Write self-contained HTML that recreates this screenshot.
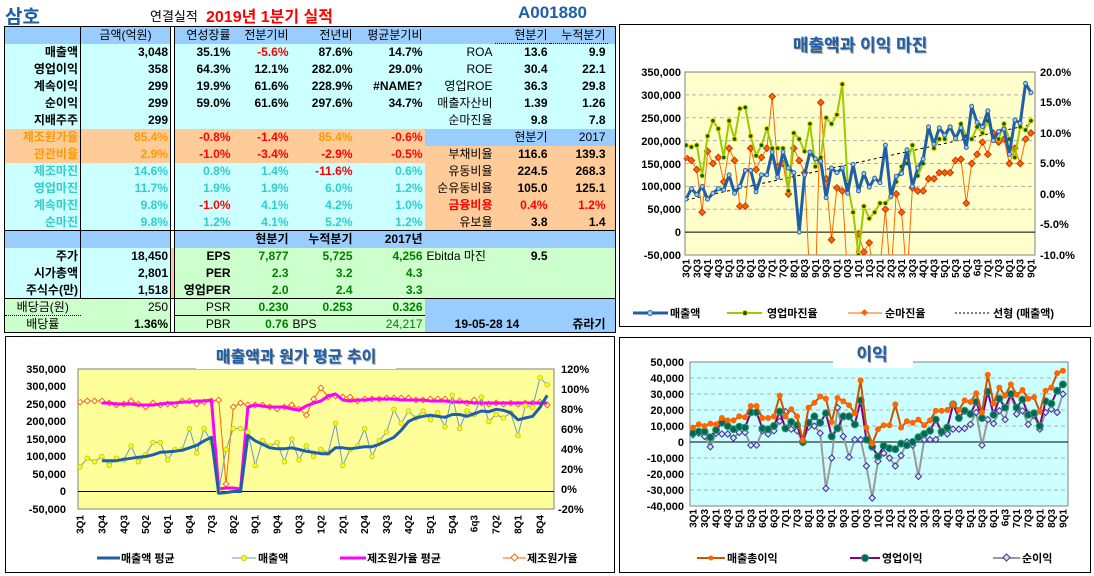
<!DOCTYPE html>
<html><head><meta charset="utf-8">
<style>
*{margin:0;padding:0;box-sizing:border-box}
body{width:1094px;height:576px;background:#fff;position:relative;overflow:hidden;font-family:"Liberation Sans","Noto Sans CJK KR",sans-serif}
.t{position:absolute;top:2px;white-space:nowrap;font-weight:bold}
table{position:absolute;left:4px;top:26px;border-collapse:collapse;table-layout:fixed;width:611px;font-size:12px}
td{height:17px;padding:0 2px;text-align:right;white-space:nowrap;font-weight:bold;overflow:visible;line-height:16px}
.n{font-weight:normal}
.c{text-align:center}
.l{text-align:left}
.B{background:#99ccff}.C{background:#ccffff}.O{background:#ffcc99}.G{background:#ccffcc}.W{background:#fff}
.s{background:#fff;border-left:1px solid #000;border-right:1px solid #000;padding:0}
.r{color:#f00}.o{color:#ff9900}.q{color:#33cccc}.g{color:#008000}
.vl{border-left:1px solid #000}
.tl td{border-top:1px solid #000}
svg{position:absolute;left:0;top:0}
</style></head><body>
<div class="t" style="left:5px;font-size:19px;color:#1f5fa8">삼호</div>
<div class="t" style="left:150px;top:6px;font-size:13px;font-weight:normal">연결실적</div>
<div class="t" style="left:206px;top:3px;font-size:16px;color:#f00">2019년 1분기 실적</div>
<div class="t" style="left:518px;top:3px;font-size:17px;color:#1f5fa8">A001880</div>
<table style="border:1px solid #000">
<colgroup><col style="width:76px"><col style="width:90px"><col style="width:4px"><col style="width:58px"><col style="width:58px"><col style="width:64px"><col style="width:70px"><col style="width:70px"><col style="width:55px"><col style="width:58px"><col style="width:8px"></colgroup>
<tr class="B"><td></td><td class="n c vl">금액(억원)</td><td class="s"></td><td class="n">연성장률</td><td class="n">전분기비</td><td class="n">전년비</td><td class="n">평균분기비</td><td></td><td class="n" style="border-bottom:1px dotted #000">현분기</td><td class="n" style="border-bottom:1px dotted #000">누적분기</td><td></td></tr>
<tr class="C"><td>매출액</td><td class="vl">3,048</td><td class="s"></td><td>35.1%</td><td class="r">-5.6%</td><td>87.6%</td><td>14.7%</td><td class="n">ROA</td><td>13.6</td><td>9.9</td><td></td></tr>
<tr class="C"><td>영업이익</td><td class="vl">358</td><td class="s"></td><td>64.3%</td><td>12.1%</td><td>282.0%</td><td>29.0%</td><td class="n">ROE</td><td>30.4</td><td>22.1</td><td></td></tr>
<tr class="C"><td>계속이익</td><td class="vl">299</td><td class="s"></td><td>19.9%</td><td>61.6%</td><td>228.9%</td><td>#NAME?</td><td class="n">영업ROE</td><td>36.3</td><td>29.8</td><td></td></tr>
<tr class="C"><td>순이익</td><td class="vl">299</td><td class="s"></td><td>59.0%</td><td>61.6%</td><td>297.6%</td><td>34.7%</td><td class="n">매출자산비</td><td>1.39</td><td>1.26</td><td></td></tr>
<tr class="C"><td>지배주주</td><td class="vl">299</td><td class="s"></td><td></td><td></td><td></td><td></td><td class="n">순마진율</td><td>9.8</td><td>7.8</td><td></td></tr>
<tr class="O"><td class="o">제조원가율</td><td class="o vl">85.4%</td><td class="s"></td><td class="r">-0.8%</td><td class="r">-1.4%</td><td class="o">85.4%</td><td class="r">-0.6%</td><td class="B"></td><td class="B n">현분기</td><td class="B n">2017</td><td class="B"></td></tr>
<tr class="O"><td class="o">관관비율</td><td class="o vl">2.9%</td><td class="s"></td><td class="r">-1.0%</td><td class="r">-3.4%</td><td class="r">-2.9%</td><td class="r">-0.5%</td><td class="n">부채비율</td><td>116.6</td><td>139.3</td><td></td></tr>
<tr><td class="C q">제조마진</td><td class="C q vl">14.6%</td><td class="s"></td><td class="C q">0.8%</td><td class="C q">1.4%</td><td class="C r">-11.6%</td><td class="C q">0.6%</td><td class="O n">유동비율</td><td class="O">224.5</td><td class="O">268.3</td><td class="O"></td></tr>
<tr><td class="C q">영업마진</td><td class="C q vl">11.7%</td><td class="s"></td><td class="C q">1.9%</td><td class="C q">1.9%</td><td class="C q">6.0%</td><td class="C q">1.2%</td><td class="O n">순유동비율</td><td class="O">105.0</td><td class="O">125.1</td><td class="O"></td></tr>
<tr><td class="C q">계속마진</td><td class="C q vl">9.8%</td><td class="s"></td><td class="C r">-1.0%</td><td class="C q">4.1%</td><td class="C q">4.2%</td><td class="C q">1.0%</td><td class="O r">금융비용</td><td class="O r">0.4%</td><td class="O r">1.2%</td><td class="O"></td></tr>
<tr><td class="C q">순마진</td><td class="C q vl">9.8%</td><td class="s"></td><td class="C q">1.2%</td><td class="C q">4.1%</td><td class="C q">5.2%</td><td class="C q">1.2%</td><td class="O n">유보율</td><td class="O">3.8</td><td class="O">1.4</td><td class="O"></td></tr>
<tr class="B tl"><td></td><td class="vl"></td><td class="s"></td><td></td><td>현분기</td><td>누적분기</td><td>2017년</td><td></td><td></td><td></td><td></td></tr>
<tr><td class="C">주가</td><td class="C vl">18,450</td><td class="s" style="background:#ffcc99"></td><td class="G">EPS</td><td class="G g">7,877</td><td class="G g">5,725</td><td class="G g">4,256</td><td class="G n l">Ebitda 마진</td><td class="G">9.5</td><td class="G"></td><td class="G"></td></tr>
<tr><td class="C">시가총액</td><td class="C vl">2,801</td><td class="s" style="background:#ffcc99"></td><td class="G">PER</td><td class="G g">2.3</td><td class="G g">3.2</td><td class="G g">4.3</td><td class="G"></td><td class="G"></td><td class="G"></td><td class="G"></td></tr>
<tr><td class="C">주식수(만)</td><td class="C vl">1,518</td><td class="s" style="background:#ffcc99"></td><td class="G">영업PER</td><td class="G g">2.0</td><td class="G g">2.4</td><td class="G g">3.3</td><td class="G"></td><td class="G"></td><td class="G"></td><td class="G"></td></tr>
<tr class="tl"><td class="G n c" style="border-bottom:1px dotted #000">배당금(원)</td><td class="G n">250</td><td class="s"></td><td class="G n">PSR</td><td class="G g">0.230</td><td class="G g">0.253</td><td class="G g">0.326</td><td class="B"></td><td class="B"></td><td class="B"></td><td class="B"></td></tr>
<tr><td class="G n c">배당률</td><td class="G">1.36%</td><td class="s"></td><td class="G n" style="border-top:1px solid #000">PBR</td><td class="G g" style="border-top:1px solid #000">0.76</td><td class="G n l" style="border-top:1px solid #000">BPS</td><td class="G n g" style="border-top:1px solid #000">24,217</td><td class="B" colspan="2" style="text-align:center">19-05-28 14</td><td class="B">쥬라기</td><td class="B"></td></tr>
</table>

<svg width="1094" height="576" font-family="Liberation Sans, Noto Sans CJK KR, sans-serif" font-weight="bold">
<defs>
<clipPath id="k1"><rect x="685" y="72" width="350" height="183"/></clipPath>
<clipPath id="k2"><rect x="78" y="369" width="476" height="140"/></clipPath>
<clipPath id="k3"><rect x="690" y="362" width="378" height="144"/></clipPath>
</defs>
<!-- chart 1 -->
<rect x="619.5" y="24.5" width="471" height="302" fill="#fff" stroke="#000"/>
<text x="861" y="52" font-size="17" text-anchor="middle" fill="#999">매출액과 이익 마진</text>
<text x="860" y="51" font-size="17" text-anchor="middle" fill="#1f5fa8">매출액과 이익 마진</text>
<rect x="685" y="72" width="350" height="183" fill="#ffffcc" stroke="#808080"/>
<g id="g1"></g>
<g font-size="11" text-anchor="end">
<text x="681" y="76">350,000</text><text x="681" y="99">300,000</text><text x="681" y="122">250,000</text><text x="681" y="145">200,000</text><text x="681" y="168">150,000</text><text x="681" y="190">100,000</text><text x="681" y="213">50,000</text><text x="681" y="236">0</text><text x="681" y="259">-50,000</text>
</g>
<g font-size="11">
<text x="1040" y="76">20.0%</text><text x="1040" y="106">15.0%</text><text x="1040" y="137">10.0%</text><text x="1040" y="167">5.0%</text><text x="1040" y="198">0.0%</text><text x="1040" y="228">-5.0%</text><text x="1040" y="259">-10.0%</text>
</g>
<g id="x1" font-size="10" text-anchor="end"></g>
<g font-size="11">
<line x1="633" y1="313" x2="668" y2="313" stroke="#1f5fa8" stroke-width="3"/><circle cx="650" cy="313" r="2.5" fill="#99ccff" stroke="#1f5fa8"/><text x="670" y="317">매출액</text>
<line x1="727" y1="313" x2="762" y2="313" stroke="#99cc00" stroke-width="2"/><circle cx="745" cy="313" r="2.5" fill="#006600" stroke="#ffcc00"/><text x="767" y="317">영업마진율</text>
<line x1="848" y1="313" x2="882" y2="313" stroke="#ff6600"/><rect x="862" y="310" width="5" height="5" fill="#ff6600" transform="rotate(45 864.5 312.5)"/><text x="885" y="317">순마진율</text>
<line x1="955" y1="313" x2="990" y2="313" stroke="#000" stroke-dasharray="2,2"/><text x="993" y="317">선형 (매출액)</text>
</g>

<!-- chart 2 -->
<rect x="5.5" y="336.5" width="609" height="236" fill="#fff" stroke="#000"/>
<rect x="78" y="369" width="476" height="140" fill="#ffff99" stroke="#808080"/>
<g id="g2"></g>
<rect x="196" y="339" width="200" height="30" fill="#fff"/>
<text x="297" y="363" font-size="16" text-anchor="middle" fill="#999">매출액과 원가 평균 추이</text>
<text x="296" y="362" font-size="16" text-anchor="middle" fill="#1f5fa8">매출액과 원가 평균 추이</text>
<g font-size="11" text-anchor="end">
<text x="66" y="373">350,000</text><text x="66" y="390">300,000</text><text x="66" y="408">250,000</text><text x="66" y="425">200,000</text><text x="66" y="443">150,000</text><text x="66" y="460">100,000</text><text x="66" y="478">50,000</text><text x="66" y="495">0</text><text x="66" y="513">-50,000</text>
</g>
<g font-size="11">
<text x="561" y="373">120%</text><text x="561" y="393">100%</text><text x="561" y="413">80%</text><text x="561" y="433">60%</text><text x="561" y="453">40%</text><text x="561" y="473">20%</text><text x="561" y="493">0%</text><text x="558" y="513">-20%</text>
</g>
<g id="x2" font-size="10" text-anchor="end"></g>
<g font-size="11">
<line x1="97" y1="558" x2="120" y2="558" stroke="#1f5fa8" stroke-width="3"/><text x="121" y="562">매출액 평균</text>
<line x1="232" y1="558" x2="256" y2="558" stroke="#6699cc"/><circle cx="244" cy="558" r="2.5" fill="#ffff00" stroke="#cccc00"/><text x="258" y="562">매출액</text>
<line x1="340" y1="558" x2="366" y2="558" stroke="#ff00ff" stroke-width="3"/><text x="367" y="562">제조원가율 평균</text>
<line x1="503" y1="558" x2="526" y2="558" stroke="#ff6600"/><rect x="512" y="555" width="5" height="5" fill="#fff" stroke="#ff6600" transform="rotate(45 514.5 557.5)"/><text x="527" y="562">제조원가율</text>
</g>

<!-- chart 3 -->
<rect x="619.5" y="337.5" width="471" height="235" fill="#fff" stroke="#000"/>
<rect x="690" y="362" width="378" height="144" fill="#ccffff" stroke="#808080"/>
<g id="g3"></g>
<rect x="833" y="342" width="80" height="26" fill="#fff"/>
<text x="873" y="361" font-size="17" text-anchor="middle" fill="#999">이익</text>
<text x="872" y="360" font-size="17" text-anchor="middle" fill="#1f5fa8">이익</text>
<g font-size="11" text-anchor="end">
<text x="684" y="366">50,000</text><text x="684" y="382">40,000</text><text x="684" y="398">30,000</text><text x="684" y="414">20,000</text><text x="684" y="430">10,000</text><text x="684" y="446">0</text><text x="684" y="462">-10,000</text><text x="684" y="478">-20,000</text><text x="684" y="494">-30,000</text><text x="684" y="510">-40,000</text>
</g>
<g id="x3" font-size="10" text-anchor="end"></g>
<g font-size="11">
<line x1="697" y1="558" x2="725" y2="558" stroke="#cc5500" stroke-width="2"/><circle cx="711" cy="558" r="2.5" fill="#ff6600"/><text x="727" y="562">매출총이익</text>
<line x1="850" y1="558" x2="880" y2="558" stroke="#800080" stroke-width="2"/><circle cx="865" cy="558" r="3.5" fill="#00665e" stroke="#339966"/><text x="882" y="562">영업이익</text>
<line x1="993" y1="558" x2="1020" y2="558" stroke="#999" stroke-width="2"/><rect x="1004" y="555" width="5" height="5" fill="#ddd" stroke="#333399" transform="rotate(45 1006.5 557.5)"/><text x="1022" y="562">순이익</text>
</g>
</svg>
<div style="display:none">
3Q1 3Q3 4Q1 4Q3 5Q1 5Q3 6Q1 6Q3 7Q1 7Q3 8Q1 8Q3 9Q1 9Q3 0Q1 0Q3 1Q1 1Q3 2Q1 2Q3 3Q1 3Q3 4Q1 4Q3 5Q1 5Q3 6Q1 6q3 7Q1 7Q3 8Q1 8Q3 9Q1
3Q1 3Q4 4Q3 5Q2 6Q1 6Q4 7Q3 8Q2 9Q1 9Q4 0Q3 1Q2 2Q1 2Q4 3Q3 4Q2 5Q1 5Q4 6q3 7Q2 8Q1 8Q4
</div>
<script>
var NS="http://www.w3.org/2000/svg";
function el(p,t,a){var e=document.createElementNS(NS,t);for(var k in a)e.setAttribute(k,a[k]);p.appendChild(e);return e;}
function grid(g,x1,x2,ys){ys.forEach(function(y){el(g,'line',{x1:x1,x2:x2,y1:y,y2:y,stroke:'#b0b0b0','stroke-dasharray':'4,3'});});}
function path(g,P,c,w,clip,dash){var d='';P.forEach(function(p,i){d+=(i?'L':'M')+p[0].toFixed(1)+' '+p[1].toFixed(1);});var a={d:d,fill:'none',stroke:c,'stroke-width':w,'stroke-linejoin':'round','clip-path':'url(#'+clip+')'};if(dash)a['stroke-dasharray']=dash;el(g,'path',a);}
function mk(g,P,type,r,f,s,clip){P.forEach(function(p){if(type=='c')el(g,'circle',{cx:p[0],cy:p[1],r:r,fill:f,stroke:s,'clip-path':'url(#'+clip+')'});else el(g,'rect',{x:p[0]-r,y:p[1]-r,width:2*r,height:2*r,fill:f,stroke:s,transform:'rotate(45 '+p[0]+' '+p[1]+')','clip-path':'url(#'+clip+')'});});}
function P(arr,fx,fy,off){off=off||0;return arr.map(function(v,i){return [fx(i+off),fy(v)];});}
function labels(id,list,fx,step,y){var g=document.getElementById(id);list.forEach(function(t,j){var x=fx(j*step)+3.5;var e=el(g,'text',{x:x,y:y,transform:'rotate(-90 '+x+' '+y+')'});e.textContent=t;});}
var L1="3Q1 3Q3 4Q1 4Q3 5Q1 5Q3 6Q1 6Q3 7Q1 7Q3 8Q1 8Q3 9Q1 9Q3 0Q1 0Q3 1Q1 1Q3 2Q1 2Q3 3Q1 3Q3 4Q1 4Q3 5Q1 5Q3 6Q1 6q3 7Q1 7Q3 8Q1 8Q3 9Q1".split(' ');
var L2="3Q1 3Q4 4Q3 5Q2 6Q1 6Q4 7Q3 8Q2 9Q1 9Q4 0Q3 1Q2 2Q1 2Q4 3Q3 4Q2 5Q1 5Q4 6q3 7Q2 8Q1 8Q4".split(' ');
// chart1
(function(){var g=document.getElementById('g1');var ys=[];for(var k=1;k<7;k++)ys.push(72+k*22.875);grid(g,685,1035,ys);
el(g,'line',{x1:685,x2:1035,y1:232.1,y2:232.1,stroke:'#000'});
var fx=function(i){return 686+i*5.39;},fs=function(v){return 232.1-v*0.4575;},fp=function(v){return 194-v*6.1;};
var sales=[72,95,82,100,72,85,95,92,125,85,100,135,135,88,125,125,175,120,175,140,130,0,125,175,160,155,75,140,130,140,85,148,90,128,98,118,108,190,78,122,128,180,100,140,160,230,192,228,212,230,205,228,185,275,240,230,265,200,220,225,170,245,238,325,305];
var op=[8,7.7,8,3,9.5,12,10.7,6,12,9,14,14.2,9.5,6.3,8,10.7,7.5,7.5,7.5,0.5,10,9,7,11.5,4.5,6,12.5,11.5,13,18,1.5,-3,-10,-2,-4,-3,-1.5,-1.5,-0.5,2,4.5,5,8,3,5,10.5,7.5,9,9,11,9,11.5,9.5,9,11,10,12,9,9,11.5,9,6,11,10.5,12];
var np=[6,5.5,4,-3,7,5,6,2,7.5,5.5,-2,-2,7.5,4,6,7.5,16,4.5,5,0,7.5,5.5,3.5,-15,-15,15,2.5,-7.5,1,0.5,-14,-15,-6.5,-9.5,-8,-15,-12,-2.5,-14,0,-3,-14,1,0.5,0.5,2.5,2.5,3.5,3.5,3.5,5.5,5.7,-1.5,5,6.5,8.5,6.5,10,8.5,9,5,7.5,5,9,10];
var ts=[[fx(0),fs(70)],[fx(64),fs(235)]];
path(g,ts,'#000',1,'k1','3,3');
path(g,P(np,fx,fp),'#ff6600',1,'k1');mk(g,P(np,fx,fp),'d',2.3,'#ff6600','#cc3300','k1');
path(g,P(op,fx,fp),'#99cc00',2,'k1');mk(g,P(op,fx,fp),'c',2.3,'#006600','#ffcc00','k1');
path(g,P(sales,fx,fs),'#1f5fa8',3,'k1');mk(g,P(sales,fx,fs),'c',2,'#99ccff','#336699','k1');
labels('x1',L1,fx,2,259);})();
// chart2
(function(){var g=document.getElementById('g2');
el(g,'line',{x1:78,x2:554,y1:491.5,y2:491.5,stroke:'#000'});
var fx=function(i){return 80+i*7.3;},fs=function(v){return 491.5-v*0.35;},fp=function(v){return 489-v;};
var sales=[70,95,85,100,75,95,90,130,85,105,140,140,90,120,120,180,110,180,140,0,120,180,180,170,75,145,130,140,85,150,90,130,100,120,110,195,75,120,130,180,100,145,170,235,195,230,210,230,205,225,185,275,180,230,220,270,200,220,210,225,160,245,240,325,305];
var avg=[88,88,88,92,95,98,100,105,112,113,115,118,125,132,145,155,-5,-3,0,0,160,145,135,125,122,122,125,120,115,112,108,108,125,125,122,125,128,128,135,145,155,175,200,210,215,218,215,212,220,220,215,222,230,228,235,232,225,205,210,215,240,275];
var cr=[87,88,88,88,86,84,85,88,85,82,86,84,85,84,88,88,85,87,88,89,5,82,86,84,84,84,82,80,82,84,80,74,90,101,92,93,92,92,88,90,90,90,91,91,91,91,89,89,90,90,90,88,88,86,89,86,85,86,85,86,85,86,86,87,84];
var ca=[86,86,85,85,85,84,84,84,85,86,86,87,87,88,88,89,0,1,1,0,82,84,83,82,82,82,80,79,83,86,88,93,95,89,88,89,89,90,90,90,90,89,89,89,89,88,88,88,87,87,87,86,86,86,86,86,86,86,86,86,86,86];
path(g,P(cr,fx,fp),'#ff6600',1,'k2');mk(g,P(cr,fx,fp),'d',2,'#fff','#ff6600','k2');
path(g,P(ca,fx,fp,3),'#ff00ff',3,'k2');
path(g,P(sales,fx,fs),'#6699cc',1,'k2');mk(g,P(sales,fx,fs),'c',2.3,'#ffff00','#cccc33','k2');
path(g,P(avg,fx,fs,3),'#1f5fa8',3,'k2');
labels('x2',L2,fx,3,515);})();
// chart3
(function(){var g=document.getElementById('g3');var ys=[];for(var k=1;k<9;k++)ys.push(362+k*16);grid(g,690,1068,ys);
el(g,'line',{x1:690,x2:1068,y1:442,y2:442,stroke:'#000'});
var fx=function(i){return 693+i*5.78;},fy=function(v){return 442-v*1.6;};
var gp=[9,11,10,11.5,11,15,13.5,13.5,16,15.5,22.5,22.5,15,15,16,29,16,20.5,16,1,21.5,24.5,28.5,27,12.5,27.5,25.5,23,18,38.5,9,-1,8,10.5,10.5,23.5,9,13,12,14,10.5,13.5,19.5,19.5,20,23.5,20,26,25,30.5,18.5,42,24,34,29,36,29.5,32.5,27,28,19,32,34,43,44.5];
var op=[5.5,6.5,6.5,3,7.5,12,10,8,9.5,9,18.5,18.5,8.5,8,10,19,8.5,12.5,10.5,0,12,16,12,18,3.5,8.5,16,16,11,26,1.5,-3,-9,-2.5,-4,-4.5,-1,-2,0,3,5,7,14,6.5,9,23.5,15,19.5,17.5,25,15,31.5,17,27,21.5,30,21.5,26.5,17,18,10,25.5,24,32,36];
var np=[4.5,5.5,3.5,-3,5.5,5,5,2.5,6,6,-2,-2,7,5,7,13,19,8,7,-0.5,9.5,10,5.5,-29,-10,21.5,3.5,-9.5,1.5,1.5,-15,-35,-12,-7,-10,-15,-8.5,0,-2,-21.5,1.5,1.5,1.5,5.5,5,8,8,8.5,11,18.5,-2,14,11.5,19.5,14,29.5,17.5,19.5,11,16.5,8,18.5,20.5,18.5,30];
path(g,P(np,fx,fy),'#999',2,'k3');mk(g,P(np,fx,fy),'d',2.2,'#e0e0ff','#333399','k3');
path(g,P(op,fx,fy),'#800080',2,'k3');mk(g,P(op,fx,fy),'c',3.5,'#00665e','#339966','k3');
path(g,P(gp,fx,fy),'#cc5500',2,'k3');mk(g,P(gp,fx,fy),'c',2.5,'#ff6600','#ff6600','k3');
labels('x3',L1,fx,2,509);})();
</script>
</body></html>
